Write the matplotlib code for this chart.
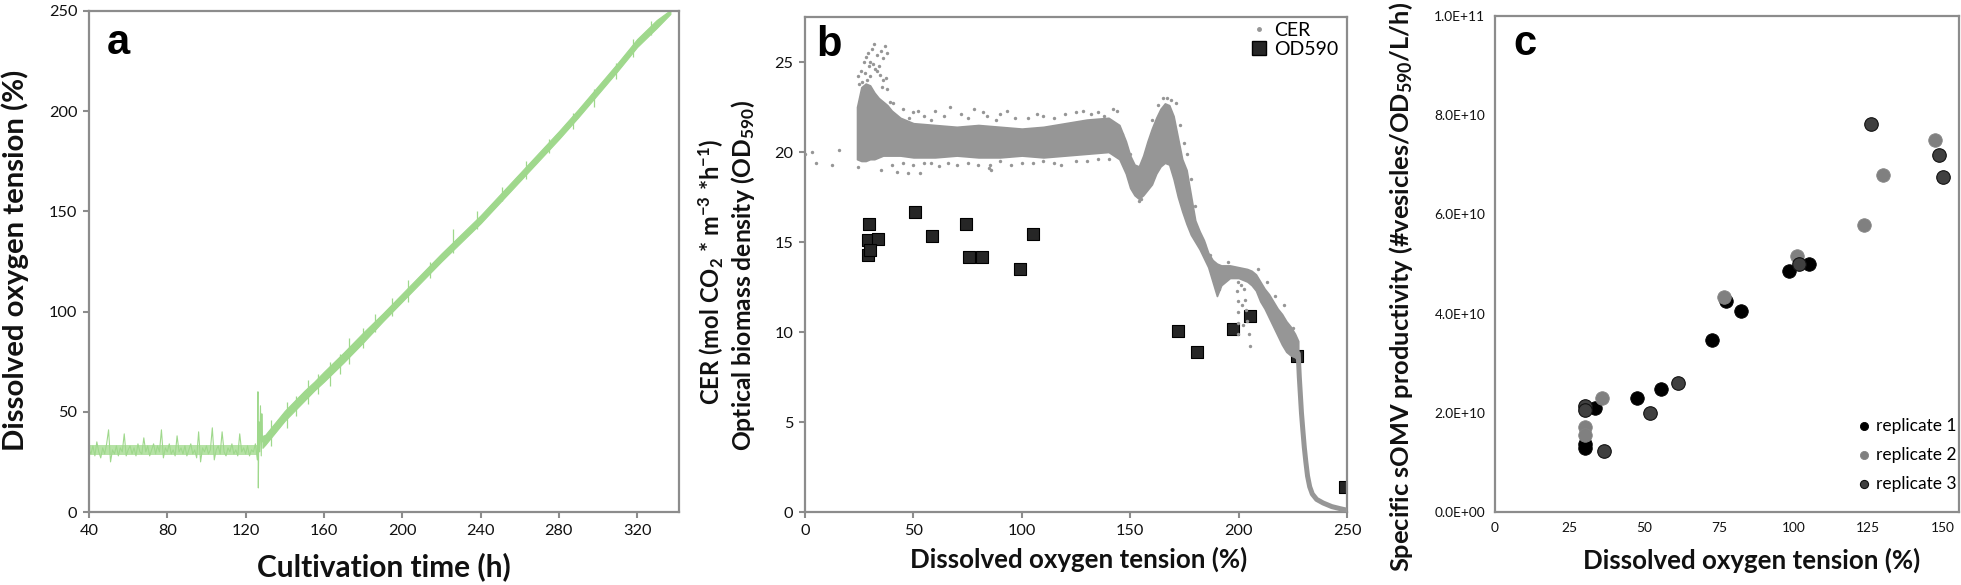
import numpy as np
import matplotlib
matplotlib.use("Agg")
import matplotlib.pyplot as plt
from matplotlib.lines import Line2D
from matplotlib.ticker import FuncFormatter, MultipleLocator

plt.rcParams['font.family'] = ['Lato', 'DejaVu Sans']
plt.rcParams['mathtext.default'] = 'regular'

# ---------------- Panel a data ----------------
dot_base_t = list(range(40, 127)) + [126.3, 126.5, 126.8, 127.2, 127.6, 128.0, 128.3, 128.6]
dot_base_v = [31, 29, 33, 28, 35, 30, 27, 32, 29, 34, 41, 25, 31, 29, 33, 28, 32, 30, 39, 28,
              31, 33, 29, 32, 28, 34, 30, 29, 37, 30, 33, 28, 31, 34, 29, 33, 30, 41, 27, 32,
              30, 34, 29, 31, 28, 38, 30, 32, 29, 33, 28, 31, 34, 29, 31, 27, 40, 25, 32, 30,
              33, 29, 31, 42, 26, 31, 33, 29, 40, 30, 28, 32, 30, 34, 29, 31, 28, 39, 30, 32,
              29, 33, 28, 31, 30, 34, 26,
              60, 12, 45, 30, 53, 28, 49, 35]
dot_band_t = [40, 60, 80, 100, 120, 126]
dot_band_low = [28.5, 28.5, 28.5, 28.5, 28.5, 28.5]
dot_band_high = [33.5, 33.5, 33.5, 33.5, 33.5, 33.5]
dot_rise_t = [128.6, 130, 135, 140, 145, 150, 155, 160, 170, 180, 190, 200, 210, 220, 230,
              240, 250, 260, 270, 280, 290, 300, 310, 320, 330, 337]
dot_rise_low = [32, 33.5, 39.5, 45.5, 50.5, 55.5, 60.5, 65, 74.5, 84.5, 95, 105, 115, 125, 134.5,
                144, 154.5, 165, 175.5, 186, 197, 208.5, 220, 232, 241.5, 248.5]
dot_rise_high = [38, 38.5, 44.5, 50.5, 55.5, 60.5, 65, 70, 79.5, 89.5, 99, 109, 119, 129, 138.5,
                 148, 158.5, 169, 179.5, 190, 201, 212.5, 224, 236, 245.5, 250.5]
dot_spike_t = [133, 141, 146, 152, 157, 163, 168, 173, 180, 186, 195, 203, 214, 226, 238,
               251, 263, 275, 287, 298, 309, 318, 327]
dot_spike_lo = [33, 42, 48, 54, 59, 63, 69, 74, 82, 90, 98, 105, 117, 129, 141,
                155, 166, 179, 191, 202, 216, 227, 238]
dot_spike_hi = [46, 55, 58, 66, 69, 75, 79, 87, 92, 99, 107, 116, 125, 141, 150,
                162, 175, 186, 199, 211, 224, 236, 245]

# ---------------- Panel b data ----------------
cer_x = [24, 26, 28, 30, 32, 34, 36, 38, 40, 44, 50, 60, 70, 80, 90, 100, 110, 120, 130, 140,
         145, 148, 150, 152, 154, 156, 158, 160, 162, 164, 166, 168, 170, 172, 174, 176, 178,
         180, 182, 184, 186, 188, 190, 192, 196, 200, 204, 206, 208, 210, 212, 214, 216, 218,
         220, 222, 224, 226, 227.5]
cer_high = [22.5, 23.6, 23.8, 23.7, 23.3, 23.0, 22.8, 22.6, 22.3, 21.9, 21.6, 21.5, 21.4, 21.5,
            21.4, 21.3, 21.4, 21.6, 21.8, 21.9, 21.5, 20.6, 19.8, 19.3, 19.2, 19.8, 20.6, 21.3,
            21.9, 22.4, 22.7, 22.6, 22.0, 20.8, 19.6, 19.0, 17.6, 16.2, 15.6, 15.1, 14.4, 14.0,
            13.8, 13.7, 13.7, 13.6, 13.5, 13.4, 13.2, 12.8, 12.4, 12.1, 11.7, 11.3, 11.0, 10.6,
            10.3, 9.9, 9.5]
cer_low = [19.6, 19.5, 19.5, 19.6, 19.6, 19.7, 19.8, 19.8, 19.8, 19.8, 19.7, 19.7, 19.8, 19.7,
           19.7, 19.8, 19.7, 19.8, 19.9, 20.0, 19.6, 18.8, 18.0, 17.6, 17.4, 17.6, 17.9, 18.2,
           18.8, 19.2, 19.4, 19.3, 18.5, 17.5, 16.7, 16.0, 15.4, 15.0, 14.6, 14.1, 13.6, 12.8,
           12.0, 12.6, 13.0, 13.0, 12.8, 12.6, 12.3, 11.7, 11.3, 10.8, 10.3, 9.8, 9.3, 8.9,
           8.7, 8.6, 8.4]
cer_tail_x = [227.5, 228, 228.5, 229, 229.6, 230.3, 231, 231.8, 232.8, 234, 236, 239, 243, 247, 250]
cer_tail_y = [8.8, 7.5, 6.5, 5.5, 4.6, 3.6, 2.8, 2.0, 1.4, 1.0, 0.7, 0.5, 0.3, 0.18, 0.1]
cer_out_x = [0, 3.3, 5.2, 12.4, 15.6, 24.4, 35.2, 42.5, 47.3, 53, 86, 85.5,
             26, 27, 28, 29, 30, 31, 32, 33, 34, 35, 36, 37, 38, 30, 33, 36, 38, 24.5, 25,
             27.5, 29.5, 31.5, 34.5, 26.5, 28.5, 32.5, 35.5, 37.5, 39, 40.5,
             45, 50, 55, 60, 67, 72, 78, 84, 90, 97, 110, 125, 135, 142,
             42, 48, 52, 58, 64, 75, 82, 88, 93, 103, 107, 115, 120, 128, 132, 138, 144,
             40, 55, 62, 70, 85, 95, 105, 118, 130, 140,
             45, 50, 58, 66, 75, 80, 90, 100, 110, 115, 125, 135,
             165, 167, 169, 171, 154, 155, 173, 175, 176, 178, 180, 150, 160, 163, 146, 148,
             184, 187, 191, 195, 209, 213, 217, 221, 225,
             199.5, 199.3, 199.6, 199.8, 199.5, 199.8, 202.5, 203, 203.6, 204.1, 204.6, 205.1,
             201, 201.5, 201.8]
cer_out_y = [19.9, 20.0, 19.4, 19.3, 20.1, 19.15, 19.0, 18.9, 18.85, 18.85, 19.0, 19.3,
             24.5, 25.0, 25.3, 25.5, 25.0, 25.7, 26.0, 25.4, 24.8, 25.6, 25.2, 25.9, 25.5,
             24.2, 24.5, 24.0, 23.5, 24.2, 23.8,
             24.4, 24.8, 24.9, 24.3, 23.9, 24.0, 24.6, 23.6, 24.1, 22.8, 22.7,
             22.4, 22.2, 22.0, 22.3, 22.5, 22.1, 22.4, 22.0, 22.1, 21.9, 22.0, 22.2, 22.2, 22.4,
             22.0, 21.9, 22.3, 21.8, 22.0, 21.9, 22.2, 21.8, 22.3, 21.9, 22.1, 21.9, 22.1,
             22.3, 22.1, 22.0, 22.3,
             19.3, 19.4, 19.2, 19.3, 19.1, 19.3, 19.4, 19.3, 19.5, 19.6,
             19.4, 19.3, 19.4, 19.4, 19.4, 19.3, 19.5, 19.4, 19.5, 19.4, 19.5, 19.6,
             23.0, 23.0, 22.9, 22.7, 17.3, 17.4, 21.5, 20.5, 19.9, 18.5, 17.0, 19.9, 21.8,
             22.6, 21.0, 20.3,
             14.9, 14.3, 12.4, 13.9, 13.5, 12.8, 12.0, 11.5, 10.2,
             12.8, 12.3, 11.7, 11.1, 10.5, 9.9, 12.4, 11.8, 11.2, 10.6, 9.9, 9.2,
             12.6, 11.5, 10.4]
od_x = [29.5, 29.0, 33.6, 29.0, 30.0, 50.9, 58.7, 74.4, 75.6, 81.8, 99.0, 105.2,
        172.1, 180.6, 197.2, 205.2, 226.8, 249.1]
od_y = [15.98, 15.1, 15.15, 14.3, 14.55, 16.65, 15.35, 15.98, 14.18, 14.18, 13.5, 15.43,
        10.07, 8.87, 10.17, 10.9, 8.67, 1.37]

# ---------------- Panel c data ----------------
rep1_x = [105.1, 98.3, 77.5, 82.3, 72.7, 55.7, 47.5, 33.4, 30.1, 30.1]
rep1_y = [5.0e10, 4.85e10, 4.26e10, 4.05e10, 3.46e10, 2.48e10, 2.29e10, 2.10e10, 1.30e10, 1.37e10]
rep2_x = [147.3, 129.9, 123.7, 101.2, 76.7, 36.0, 30.1, 30.1]
rep2_y = [7.5e10, 6.8e10, 5.78e10, 5.16e10, 4.34e10, 2.30e10, 1.71e10, 1.55e10]
rep3_x = [125.8, 148.6, 150.0, 101.9, 61.2, 51.8, 36.5, 30.1, 30.1]
rep3_y = [7.82e10, 7.19e10, 6.75e10, 5.01e10, 2.61e10, 1.99e10, 1.22e10, 2.14e10, 2.05e10]

W, H = 1961, 585
fig = plt.figure(figsize=(W / 100, H / 100), dpi=100)
renderer = fig.canvas.get_renderer()


def box(l, t, r, b):
    return [l / W, (H - b) / H, (r - l) / W, (b - t) / H]


def fx(px):
    return px / W


def fy(py):
    return (H - py) / H


def fit(t, target, vertical=False):
    bb = t.get_window_extent(renderer)
    size = bb.height if vertical else bb.width
    t.set_fontsize(t.get_fontsize() * target / size)


def label(x, y, s, target, vertical=False):
    t = fig.text(fx(x), fy(y), s, ha='center', va='center', rotation=90 if vertical else 0,
                 fontsize=18, fontweight='bold', color='#111111')
    fit(t, target, vertical)
    return t


spine_col = '#8c8c8c'
green = '#9fd88c'
grey = '#969696'


def style(ax, ticklen=4.5, labelsize=11.7, pad=4):
    for s in ax.spines.values():
        s.set_color(spine_col)
        s.set_linewidth(1.6)
    ax.tick_params(direction='out', length=ticklen, width=1.5, color=spine_col,
                   labelsize=labelsize, pad=pad, labelcolor='#111111')


# ---------------- Panel a ----------------
axa = fig.add_axes(box(89, 11, 679, 512))
axa.fill_between(dot_band_t, dot_band_low, dot_band_high, color='#b6e2a6', lw=0)
axa.plot(dot_base_t, dot_base_v, color=green, lw=0.8)
axa.fill_between(dot_rise_t, dot_rise_low, dot_rise_high, color=green, lw=0.8, ec=green)
axa.vlines(dot_spike_t, dot_spike_lo, dot_spike_hi, color=green, lw=0.9)
axa.set_xlim(40, 341.4)
axa.set_ylim(0, 250)
axa.xaxis.set_major_locator(MultipleLocator(40))
axa.yaxis.set_major_locator(MultipleLocator(50))
style(axa)
label(384, 567, 'Cultivation time (h)', 254)
label(15, 260, 'Dissolved oxygen tension (%)', 382, vertical=True)
fig.text(fx(107), fy(54), 'a', fontsize=30, fontweight='bold',
         family=['Liberation Sans'], va='baseline')

# ---------------- Panel b ----------------
axb = fig.add_axes(box(805, 17, 1347, 512))
axb.scatter(od_x, od_y, marker='s', s=80, c='#262626', edgecolors='#000000',
            linewidths=0.8, zorder=2)
axb.fill_between(cer_x, cer_low, cer_high, color=grey, lw=1.2, ec=grey, zorder=3)
axb.plot(cer_tail_x, cer_tail_y, color=grey, lw=3.6, solid_capstyle='round', zorder=3)
axb.scatter(cer_out_x, cer_out_y, s=6, c=grey, linewidths=0, zorder=3)
axb.set_xlim(0, 250)
axb.set_ylim(0, 27.5)
axb.xaxis.set_major_locator(MultipleLocator(50))
axb.yaxis.set_major_locator(MultipleLocator(5))
style(axb)
label(1079, 559, 'Dissolved oxygen tension (%)', 337)
label(711, 272, 'CER (mol CO$_2$ * m$^{-3}$ *h$^{-1}$)', 266, vertical=True)
label(743, 275, 'Optical biomass density (OD$_{590}$)', 352, vertical=True)
fig.text(fx(816), fy(56), 'b', fontsize=30, fontweight='bold',
         family=['Liberation Sans'], va='baseline')
hb = [Line2D([], [], ls='none', marker='o', ms=2.5, color=grey, mec=grey),
      Line2D([], [], ls='none', marker='s', ms=10, color='#262626', mec='#000000')]
axb.legend(hb, ['CER', 'OD590'], loc='upper left', bbox_to_anchor=(fx(1249), fy(22)),
           bbox_transform=fig.transFigure, frameon=False, fontsize=14, handlelength=1,
           handletextpad=0.3, labelspacing=0.1, borderpad=0, borderaxespad=0)

# ---------------- Panel c ----------------
axc = fig.add_axes(box(1495, 16, 1959, 512))
axc.scatter(rep1_x, rep1_y, s=95, c='#000000', edgecolors='#000000', linewidths=0.6,
            zorder=3, label='replicate 1')
axc.scatter(rep2_x, rep2_y, s=95, c='#808080', edgecolors='#858585', linewidths=0.6,
            zorder=3, label='replicate 2')
axc.scatter(rep3_x, rep3_y, s=95, c='#404040', edgecolors='#111111', linewidths=0.8,
            zorder=3, label='replicate 3')
axc.set_xlim(0, 155.4)
axc.set_ylim(0, 1e11)
axc.xaxis.set_major_locator(MultipleLocator(25))
axc.yaxis.set_major_locator(MultipleLocator(2e10))
axc.yaxis.set_major_formatter(FuncFormatter(lambda v, p: f'{v:.1E}'))
style(axc, ticklen=0, labelsize=9.9, pad=7)
label(1752, 560, 'Dissolved oxygen tension (%)', 336)
label(1401, 287, 'Specific sOMV productivity (#vesicles/OD$_{590}$/L/h)', 570, vertical=True)
fig.text(fx(1513), fy(55), 'c', fontsize=30, fontweight='bold',
         family=['Liberation Sans'], va='baseline')
axc.legend(loc='upper left', bbox_to_anchor=(fx(1857), fy(418)),
           bbox_transform=fig.transFigure, frameon=False, fontsize=12.5, handlelength=0.8,
           handletextpad=0.3, labelspacing=0.75, borderpad=0, borderaxespad=0,
           markerscale=0.6)

fig.savefig('out.png', dpi=100)
